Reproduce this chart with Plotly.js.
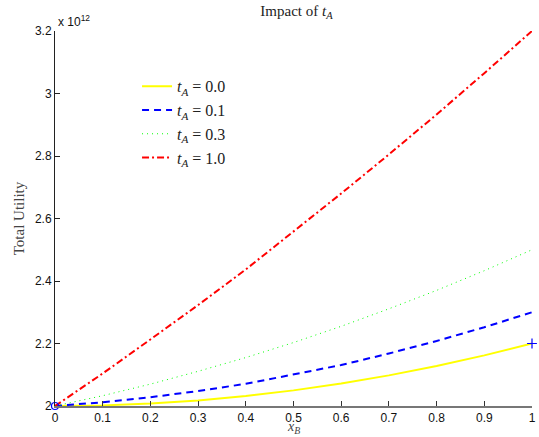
<!DOCTYPE html>
<html>
<head>
<meta charset="utf-8">
<script src="https://cdn.plot.ly/plotly-3.0.1.min.js"></script>
<style>html,body{margin:0;padding:0;background:#fff;}#chart{width:539px;height:437px;}</style>
</head>
<body>
<div id="chart"></div>
<script>
// x_B values
var xB = [0, 0.1, 0.2, 0.3, 0.4, 0.5, 0.6, 0.7, 0.8, 0.9, 1.0];
// Total utility (x 10^12) for each t_A
var util_t00 = [2.000, 2.002, 2.008, 2.018, 2.032, 2.050, 2.072, 2.098, 2.128, 2.162, 2.200];
var util_t01 = [2.000, 2.012, 2.028, 2.048, 2.071, 2.100, 2.131, 2.168, 2.208, 2.252, 2.300];
var util_t03 = [2.000, 2.033, 2.070, 2.111, 2.155, 2.203, 2.255, 2.311, 2.370, 2.433, 2.500];
var util_t10 = [2.000, 2.104, 2.213, 2.323, 2.437, 2.557, 2.680, 2.805, 2.933, 3.065, 3.200];
var seriesNames = ["<i>t<sub>A</sub></i> = 0.0", "<i>t<sub>A</sub></i> = 0.1", "<i>t<sub>A</sub></i> = 0.3", "<i>t<sub>A</sub></i> = 1.0"];
// end-point markers
var circleX = [0], circleY = [2.0];
var plusX = [1], plusY = [2.2];
var xTicks = [0, 0.1, 0.2, 0.3, 0.4, 0.5, 0.6, 0.7, 0.8, 0.9, 1];
var xTickText = ["0", "0.1", "0.2", "0.3", "0.4", "0.5", "0.6", "0.7", "0.8", "0.9", "1"];
var yTicks = [2, 2.2, 2.4, 2.6, 2.8, 3, 3.2];
var yTickText = ["2", "2.2", "2.4", "2.6", "2.8", "3", "3.2"];

var serif = "Liberation Serif, Times New Roman, serif";
var sans = "Liberation Sans, Arial, sans-serif";

var traces = [
  {x: xB, y: util_t00, name: seriesNames[0], mode: "lines", line: {color: "#ffff00", width: 2, dash: "solid"}},
  {x: xB, y: util_t01, name: seriesNames[1], mode: "lines", line: {color: "#0000ff", width: 2, dash: "7px,5px"}},
  {x: xB, y: util_t03, name: seriesNames[2], mode: "lines", line: {color: "#00ff00", width: 1, dash: "1px,4px"}},
  {x: xB, y: util_t10, name: seriesNames[3], mode: "lines", line: {color: "#ff0000", width: 2, dash: "7px,3px,2px,3px"}},
  {x: circleX, y: circleY, mode: "markers", showlegend: false, cliponaxis: false,
   marker: {symbol: "circle-open", size: 7, color: "#0000ff", line: {width: 1.2, color: "#0000ff"}}},
  {x: plusX, y: plusY, mode: "markers", showlegend: false, cliponaxis: false,
   marker: {symbol: "cross-thin-open", size: 7, color: "#0000ff", line: {width: 1.2, color: "#0000ff"}}}
];

var layout = {
  width: 539, height: 437,
  margin: {l: 55, r: 7, t: 31, b: 31},
  paper_bgcolor: "#ffffff", plot_bgcolor: "#ffffff",
  title: {text: "Impact of <i>t<sub>A</sub></i>", font: {family: serif, size: 15, color: "#222"}, x: 0.55, xanchor: "center", y: 0.988, yanchor: "top"},
  xaxis: {
    range: [0, 1], tickvals: xTicks, ticktext: xTickText,
    showgrid: false, zeroline: false, showline: true, linecolor: "#777", linewidth: 1.5,
    ticks: "inside", ticklen: 5, tickcolor: "#333", tickwidth: 1,
    tickfont: {family: sans, size: 12, color: "#111"},
    automargin: false
  },
  yaxis: {
    range: [2, 3.2], tickvals: yTicks, ticktext: yTickText,
    showgrid: false, zeroline: false, showline: true, linecolor: "#222", linewidth: 1,
    ticks: "inside", ticklen: 5, tickcolor: "#222", tickwidth: 1,
    tickfont: {family: sans, size: 12, color: "#111"},
    title: {text: "Total Utility", font: {family: serif, size: 15, color: "#444"}, standoff: 6},
    automargin: false
  },
  legend: {
    x: 0.172, y: 0.898, xanchor: "left", yanchor: "top",
    bgcolor: "rgba(0,0,0,0)", borderwidth: 0,
    font: {family: serif, size: 16, color: "#222"},
    itemwidth: 30
  },
  annotations: [
    {xref: "paper", yref: "paper", x: 0.002, y: 1.0, xanchor: "left", yanchor: "bottom", showarrow: false,
     text: "x 10<sup>12</sup>", font: {family: sans, size: 12, color: "#111"}},
    {xref: "paper", yref: "paper", x: 0.5, y: -0.0827, xanchor: "center", yanchor: "bottom", showarrow: false,
     text: "<i>x<sub>B</sub></i>", font: {family: serif, size: 14, color: "#444"}, borderpad: 0}
  ],
  showlegend: true
};

Plotly.newPlot("chart", traces, layout, {displayModeBar: false, staticPlot: true});
</script>
</body>
</html>
